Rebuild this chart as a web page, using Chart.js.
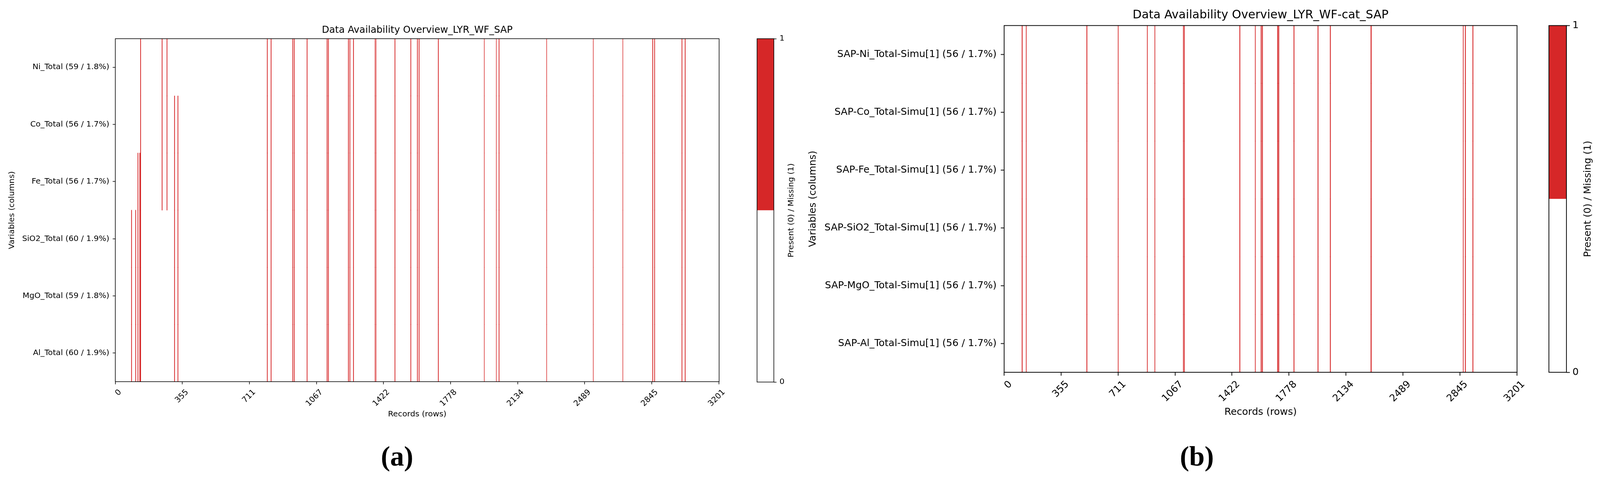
<!DOCTYPE html>
<html>
<head>
<meta charset="utf-8">
<title>Data Availability Overview</title>
<script src="https://cdn.jsdelivr.net/npm/chart.js@4.4.1/dist/chart.umd.min.js"></script>
<style>
  html, body { margin: 0; padding: 0; background: #fff; overflow: hidden; }
  body { position: relative; }
  canvas { position: absolute; top: 0; }
  .cap { position: absolute; text-align: center; font-family: "Liberation Serif", serif;
         font-weight: bold; line-height: 1; color: #000; }
</style>
</head>
<body>
<script>
// 记录行 0..3201，x 轴刻度
const recordTicks = [0, 355, 711, 1067, 1422, 1778, 2134, 2489, 2845, 3201];

// (a) LYR_WF_SAP 变量
const labelsA = [
  'Ni_Total (59 / 1.8%)',
  'Co_Total (56 / 1.7%)',
  'Fe_Total (56 / 1.7%)',
  'SiO2_Total (60 / 1.9%)',
  'MgO_Total (59 / 1.8%)',
  'Al_Total (60 / 1.9%)'
];

// 缺失行段 [起始行, 结束行]，所有变量共有
const sharedGapsA = [
  [133, 134], [805, 806], [825, 826], [940, 941], [948, 949], [1016, 1017],
  [1122, 1123], [1129, 1130], [1235, 1236], [1243, 1244], [1262, 1263],
  [1377, 1377], [1382, 1382], [1482, 1483], [1566, 1567], [1601, 1602],
  [1610, 1611], [1712, 1713], [1956, 1956], [2020, 2020], [2034, 2035],
  [2287, 2287], [2534, 2534], [2691, 2691], [2849, 2850], [2859, 2860],
  [3004, 3005], [3021, 3022]
];
// 各变量单独的缺失段
const niGapsA = [[247, 248], [273, 274]];
const coGapsA = [[247, 248], [273, 274], [313, 314], [331, 332]];
const feGapsA = [[119, 120], [129, 130], [247, 248], [273, 274], [313, 314], [331, 332]];
const sio2GapsA = [[85, 86], [107, 108], [119, 120], [129, 130], [313, 314], [331, 332]];
const mgoGapsA = [[85, 86], [107, 108], [119, 120], [129, 130], [313, 314], [331, 332]];
const alGapsA = [[85, 86], [107, 108], [119, 120], [129, 130], [313, 314], [331, 332]];

// (b) LYR_WF-cat_SAP 变量
const labelsB = [
  'SAP-Ni_Total-Simu[1] (56 / 1.7%)',
  'SAP-Co_Total-Simu[1] (56 / 1.7%)',
  'SAP-Fe_Total-Simu[1] (56 / 1.7%)',
  'SAP-SiO2_Total-Simu[1] (56 / 1.7%)',
  'SAP-MgO_Total-Simu[1] (56 / 1.7%)',
  'SAP-Al_Total-Simu[1] (56 / 1.7%)'
];
// (b) 六个变量缺失位置相同
const gapsB = [
  [111, 113], [137, 138], [515, 517], [711, 712], [893, 894], [940, 941],
  [1118, 1119], [1124, 1125], [1470, 1472], [1567, 1568], [1603, 1605],
  [1611, 1613], [1706, 1708], [1713, 1715], [1808, 1810], [1958, 1960],
  [2035, 2037], [2289, 2292], [2865, 2866], [2878, 2880], [2925, 2927]
];

// 色条：0 = 存在(白)，1 = 缺失(红)
const cbarBounds = [0, 0.5, 1];
const cbarColors = ['#ffffff', '#d62728'];
const cbarTicks = [0, 1];
const missingColor = '#d62728';

// 按窗口实际宽度缩放（版面按 4259x1280 量取）
const k = Math.min(window.innerWidth / 4259, window.innerHeight / 1280);
const px = v => v * k;
document.body.style.width = px(4259) + 'px';
document.body.style.height = px(1280) + 'px';

Chart.defaults.font.family = '"DejaVu Sans", sans-serif';
Chart.defaults.color = '#000';

function makeCanvas(left, width) {
  const c = document.createElement('canvas');
  c.width = Math.round(px(width));
  c.height = Math.round(px(1280));
  c.style.left = px(left) + 'px';
  document.body.appendChild(c);
  return c;
}

function caption(text, centerX, top) {
  const d = document.createElement('div');
  d.className = 'cap';
  d.textContent = text;
  d.style.width = px(200) + 'px';
  d.style.left = px(centerX - 100) + 'px';
  d.style.top = px(top) + 'px';
  d.style.fontSize = px(74) + 'px';
  document.body.appendChild(d);
}

function padding(p) {
  return { left: px(p.left), right: px(p.right), top: px(p.top), bottom: px(p.bottom) };
}

// 坐标区外框
const frame = {
  id: 'frame',
  afterDraw(chart, args, opts) {
    const { ctx, chartArea: a } = chart;
    ctx.save();
    ctx.strokeStyle = '#000';
    ctx.lineWidth = opts.width || 1.5;
    ctx.strokeRect(a.left, a.top, a.right - a.left, a.bottom - a.top);
    ctx.restore();
  }
};

// 色条右侧竖排标签（自下而上）
const sideLabel = {
  id: 'sideLabel',
  afterDraw(chart, args, opts) {
    if (!opts.text) return;
    const { ctx, chartArea: a } = chart;
    ctx.save();
    ctx.translate(a.right + opts.offset, (a.top + a.bottom) / 2);
    ctx.rotate(-Math.PI / 2);
    ctx.font = opts.size + 'px "DejaVu Sans", sans-serif';
    ctx.fillStyle = '#000';
    ctx.textAlign = 'center';
    ctx.textBaseline = 'middle';
    ctx.fillText(opts.text, 0, 0);
    ctx.restore();
  }
};

function heatmap(left, width, labels, gapsPerVar, o) {
  const datasets = gapsPerVar.map((gaps, i) => ({
    label: labels[i],
    data: gaps.map(g => ({ y: labels[i], x: [g[0] - 0.5, g[1] + 0.5] })),
    backgroundColor: missingColor,
    grouped: false,
    barPercentage: 1,
    categoryPercentage: 1,
    inflateAmount: px(0.5)
  }));

  new Chart(makeCanvas(left, width), {
    type: 'bar',
    data: { labels: labels, datasets: datasets },
    options: {
      indexAxis: 'y',
      responsive: false,
      animation: false,
      layout: { padding: padding(o.pad) },
      plugins: {
        legend: { display: false },
        tooltip: { enabled: false },
        title: {
          display: true,
          text: o.title,
          fullSize: false,
          color: '#000',
          font: { size: px(o.titleSize), weight: 'normal', lineHeight: 1 },
          padding: { top: px(o.titleTop), bottom: px(o.titleBottom) }
        },
        frame: { width: px(o.line) }
      },
      scales: {
        x: {
          type: 'linear',
          min: -0.5,
          max: 3201.5,
          afterBuildTicks: s => { s.ticks = recordTicks.map(v => ({ value: v })); },
          afterFit: s => { s.height = px(o.xH); s.paddingLeft = 0; s.paddingRight = 0; },
          ticks: {
            autoSkip: false,
            minRotation: 45,
            maxRotation: 45,
            padding: px(o.xPad),
            labelOffset: px(o.xShift),
            font: { size: px(o.font) },
            callback: v => String(v)
          },
          grid: { drawOnChartArea: false, tickLength: px(o.tick), tickWidth: px(o.line), tickColor: '#000', color: '#000' },
          border: { display: false },
          title: { display: true, text: 'Records (rows)', font: { size: px(o.font) }, padding: { top: 0, bottom: 0 } }
        },
        y: {
          type: 'category',
          offset: true,
          afterFit: s => { s.width = px(o.yW); s.paddingTop = 0; s.paddingBottom = 0; },
          ticks: { autoSkip: false, padding: px(o.yPad), font: { size: px(o.font) } },
          grid: { offset: false, drawOnChartArea: false, tickLength: px(o.tick), tickWidth: px(o.line), tickColor: '#000', color: '#000' },
          border: { display: false },
          title: { display: true, text: 'Variables (columns)', font: { size: px(o.font) }, padding: { top: px(o.yTitlePad), bottom: 0 } }
        }
      }
    },
    plugins: [frame]
  });
}

function colorbar(left, width, o) {
  new Chart(makeCanvas(left, width), {
    type: 'bar',
    data: {
      labels: [''],
      datasets: cbarColors.map((c, i) => ({
        data: [[cbarBounds[i], cbarBounds[i + 1]]],
        backgroundColor: c,
        grouped: false,
        barPercentage: 1,
        categoryPercentage: 1,
        inflateAmount: 0
      }))
    },
    options: {
      responsive: false,
      animation: false,
      layout: { padding: padding(o.pad) },
      plugins: {
        legend: { display: false },
        tooltip: { enabled: false },
        frame: { width: px(o.line) },
        sideLabel: { text: 'Present (0) / Missing (1)', size: px(o.font), offset: px(o.labelOffset) }
      },
      scales: {
        x: { display: false },
        y: {
          position: 'right',
          min: 0,
          max: 1,
          afterBuildTicks: s => { s.ticks = cbarTicks.map(v => ({ value: v })); },
          afterFit: s => { s.width = px(o.yW); s.paddingTop = 0; s.paddingBottom = 0; },
          ticks: { padding: px(o.yPad), font: { size: px(o.font) }, callback: v => String(v) },
          grid: { drawOnChartArea: false, tickLength: px(o.tick), tickWidth: px(o.line), tickColor: '#000', color: '#000' },
          border: { display: false }
        }
      }
    },
    plugins: [frame, sideLabel]
  });
}

// (a)
heatmap(0, 1990, labelsA, [
  sharedGapsA.concat(niGapsA),
  sharedGapsA.concat(coGapsA),
  sharedGapsA.concat(feGapsA),
  sharedGapsA.concat(sio2GapsA),
  sharedGapsA.concat(mgoGapsA),
  sharedGapsA.concat(alGapsA)
], {
  title: 'Data Availability Overview_LYR_WF_SAP',
  titleSize: 25.5, titleTop: 68, titleBottom: 9.5,
  pad: { left: 0, right: 76, top: 0, bottom: 164 },
  font: 21, tick: 7, line: 1.6,
  xH: 100, xPad: 9, xShift: 13,
  yW: 307, yPad: 9, yTitlePad: 19.4
});
colorbar(1990, 150, {
  pad: { left: 25, right: 0, top: 103, bottom: 263 },
  yW: 80, font: 21, tick: 7, yPad: 8, line: 1.6, labelOffset: 46.5
});

// (b)
heatmap(2140, 1940, labelsB, [gapsB, gapsB, gapsB, gapsB, gapsB, gapsB], {
  title: 'Data Availability Overview_LYR_WF-cat_SAP',
  titleSize: 31.2, titleTop: 25.4, titleBottom: 11.4,
  pad: { left: 0, right: 42, top: 0, bottom: 167 },
  font: 26, tick: 9, line: 2,
  xH: 122, xPad: 8, xShift: 17,
  yW: 533, yPad: 11, yTitlePad: 9.2
});
colorbar(4090, 169, {
  pad: { left: 33.5, right: 0, top: 68, bottom: 289 },
  yW: 89.3, font: 26, tick: 9, yPad: 7, line: 2, labelOffset: 57.9
});

caption('(a)', 1057, 1178);
caption('(b)', 3186, 1178);
</script>
</body>
</html>
